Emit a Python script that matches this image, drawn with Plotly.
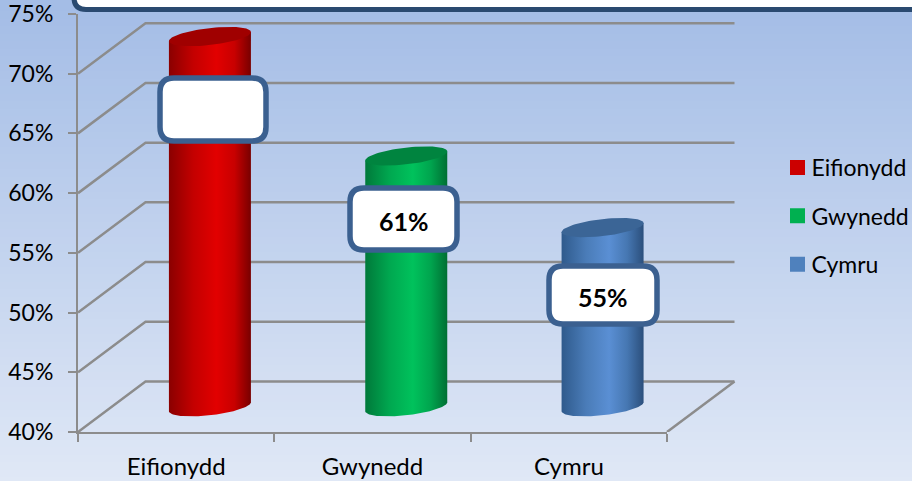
import base64, struct, zlib
import numpy as np
import plotly.graph_objects as go

W, H = 912, 481
categories = ["Eifionydd", "Gwynedd", "Cymru"]
values = [71, 61, 55]
label_texts = ["", "61%", "55%"]
y_ticks = [40, 45, 50, 55, 60, 65, 70, 75]
body_scales = [
    [[0, "#8a0000"], [0.3, "#c40000"], [0.58, "#e20000"], [0.8, "#c80000"], [1, "#780000"]],
    [[0, "#00793a"], [0.3, "#00a850"], [0.58, "#00c25c"], [0.8, "#00a44e"], [1, "#006f33"]],
    [[0, "#2f5a8c"], [0.3, "#4a7cb8"], [0.58, "#5a8fd4"], [0.8, "#4677b2"], [1, "#2b4f7c"]],
]
cap_colors = ["#a00000", "#00843f", "#3b6596"]
legend_colors = ["#cc0000", "#00b050", "#4f81bd"]

PLOT_L, PLOT_R, PLOT_T, PLOT_B = 78, 667, 14, 432
WALL_R = 736
px_per_x = (PLOT_R - PLOT_L) / 3
px_per_y = (PLOT_B - PLOT_T) / 35
DEPTH_X = 67.5 / px_per_x
DEPTH_Y = 50.5 / px_per_y
BAR_W = 82 / px_per_x
CAP_B, CAP_K = 8.5 / px_per_y, 4.5 / px_per_y
GRID = "#8c8c8c"
FONT = "Lato"
FONT_SIZE = 24
LEGEND_X = 740
LEGEND_MOVE = 777.5 - LEGEND_X


def png_gradient(top, bottom, h):
    rows = b""
    for i in range(h):
        f = i / (h - 1)
        rows += b"\x00" + bytes(int(round(a + (b - a) * f)) for a, b in zip(top, bottom))
    def chunk(t, d):
        return struct.pack(">I", len(d)) + t + d + struct.pack(">I", zlib.crc32(t + d))
    raw = b"\x89PNG\r\n\x1a\n" + chunk(b"IHDR", struct.pack(">IIBBBBB", 1, h, 8, 2, 0, 0, 0)) \
        + chunk(b"IDAT", zlib.compress(rows)) + chunk(b"IEND", b"")
    return "data:image/png;base64," + base64.b64encode(raw).decode()


def rounded(x0, y0, x1, y1, r, color, width):
    X = lambda v: v / W
    Y = lambda v: 1 - v / H
    path = (f"M{X(x0 + r)},{Y(y0)} L{X(x1 - r)},{Y(y0)} Q{X(x1)},{Y(y0)} {X(x1)},{Y(y0 + r)} "
            f"L{X(x1)},{Y(y1 - r)} Q{X(x1)},{Y(y1)} {X(x1 - r)},{Y(y1)} "
            f"L{X(x0 + r)},{Y(y1)} Q{X(x0)},{Y(y1)} {X(x0)},{Y(y1 - r)} "
            f"L{X(x0)},{Y(y0 + r)} Q{X(x0)},{Y(y0)} {X(x0 + r)},{Y(y0)} Z")
    return dict(type="path", path=path, xref="paper", yref="paper", fillcolor="white",
                line=dict(color=color, width=width), layer="above")


fig = go.Figure()

# actual bars on the category axis (kept inside the cylinder outline)
INNER_W = BAR_W * 0.8
for i, c in enumerate(categories):
    fig.add_bar(x=[c], y=[values[i] - 40], base=40 + DEPTH_Y / 2, width=INNER_W,
                offset=DEPTH_X / 2 - INNER_W / 2, marker=dict(color=legend_colors[i], line=dict(width=0)),
                showlegend=False, name=c, hoverinfo="skip")

# 3-D back wall
for v in y_ticks[:-1]:
    fig.add_scatter(x=[-0.5, -0.5 + DEPTH_X, 2.5 + DEPTH_X], y=[v, v + DEPTH_Y, v + DEPTH_Y],
                    xaxis="x2", mode="lines", line=dict(color=GRID, width=2.5),
                    showlegend=False, hoverinfo="skip")
fig.add_scatter(x=[2.5, 2.5 + DEPTH_X], y=[40, 40 + DEPTH_Y], xaxis="x2", mode="lines",
                line=dict(color=GRID, width=2.5), cliponaxis=False, showlegend=False, hoverinfo="skip")

# cylinders
for i, c in enumerate(categories):
    cx = i + DEPTH_X / 2
    base = 40 + DEPTH_Y / 2
    top = values[i] + DEPTH_Y / 2
    a = BAR_W / 2
    t = np.linspace(0, np.pi, 50)
    bx = cx + a * np.cos(t)
    by = base - CAP_B * np.sin(t) + CAP_K * np.cos(t)
    bodyx = np.concatenate([bx, [cx - a, cx + a]])
    bodyy = np.concatenate([by, [top - CAP_K, top + CAP_K]])
    fig.add_scatter(x=bodyx, y=bodyy, xaxis="x2", mode="lines", line=dict(width=0), fill="toself",
                    fillgradient=dict(type="horizontal", colorscale=body_scales[i]),
                    showlegend=False, hoverinfo="skip")
    tt = np.linspace(0, 2 * np.pi, 80)
    fig.add_scatter(x=cx + a * np.cos(tt), y=top + CAP_B * np.sin(tt) + CAP_K * np.cos(tt),
                    xaxis="x2", mode="lines", line=dict(width=0), fill="toself",
                    fillcolor=cap_colors[i], showlegend=False, hoverinfo="skip")

# legend entries
for i, c in enumerate(categories):
    fig.add_scatter(x=[None], y=[None], xaxis="x2", mode="markers", name=c, legendgroup=c,
                    marker=dict(symbol="square", size=15, color=legend_colors[i]), hoverinfo="skip")

boxes = [(160, 78, 266, 141), (350, 188, 457, 250), (549, 266, 657, 324)]
shapes = [rounded(*b, 14, "#3b6090", 5.5) for b in boxes]
shapes.append(rounded(74, -40, 930, 9.5, 12, "#2a4a70", 5))
annotations = [
    dict(x=(b[0] + b[2]) / 2 / W, y=1 - ((b[1] + b[3]) / 2 + 2) / H, xref="paper", yref="paper",
         text=f"<b>{txt}</b>", showarrow=False, font=dict(family=FONT, size=25, color="black"))
    for b, txt in zip(boxes, label_texts) if txt
]

fig.update_layout(
    template="none",
    width=W, height=H, autosize=False, margin=dict(l=0, r=0, t=0, b=0, pad=0),
    paper_bgcolor="rgba(0,0,0,0)", plot_bgcolor="rgba(0,0,0,0)",
    barmode="overlay", font=dict(family=FONT, size=FONT_SIZE, color="black"),
    images=[dict(source=png_gradient((164, 189, 230), (224, 232, 246), 64), xref="paper", yref="paper",
                 x=0, y=1, sizex=1, sizey=1, sizing="stretch", layer="below",
                 xanchor="left", yanchor="top")],
    xaxis=dict(domain=[PLOT_L / W, PLOT_R / W], type="category", categoryorder="array",
               categoryarray=categories, range=[-0.5, 2.5], tickson="boundaries", ticks="outside",
               ticklen=8, tickwidth=2, tickcolor=GRID, showline=True, linecolor=GRID, linewidth=2,
               showgrid=False, zeroline=False, ticklabelstandoff=12, anchor="y", automargin=False),
    xaxis2=dict(domain=[PLOT_L / W, WALL_R / W], range=[-0.5, -0.5 + (WALL_R - PLOT_L) / px_per_x],
                visible=False, anchor="y", type="linear", automargin=False),
    yaxis=dict(domain=[1 - PLOT_B / H, 1 - PLOT_T / H], range=[40, 75], tick0=40, dtick=5, ticksuffix="%",
               ticks="outside", ticklen=8, tickwidth=2, tickcolor=GRID, showline=True, linecolor=GRID,
               linewidth=2, showgrid=False, zeroline=False, ticklabelstandoff=10, anchor="x", automargin=False,
               ticklabeloverflow="allow", tickfont=dict(size=23)),
    legend=dict(x=LEGEND_X / W, y=1 - 146 / H, xanchor="left", yanchor="top",
                bgcolor="rgba(0,0,0,0)", tracegroupgap=15.5, traceorder="grouped",
                font=dict(family=FONT, size=23)),
    shapes=shapes, annotations=annotations,
)
shift = ("document.body.style.margin='0';document.body.style.overflow='hidden';"
         "document.querySelectorAll('.legendtext').forEach(function(t){"
         "t.setAttribute('x', parseFloat(t.getAttribute('x')) - 6);});"
         "var lg=document.querySelector('g.legend');var m=/translate\\(([-\\d.]+)[ ,]+([-\\d.]+)\\)/.exec(lg.getAttribute('transform'));"
         f"lg.setAttribute('transform','translate('+(parseFloat(m[1])+{LEGEND_MOVE})+','+m[2]+')');")
fig.write_html("out.html", config={"displayModeBar": False}, post_script=shift)
